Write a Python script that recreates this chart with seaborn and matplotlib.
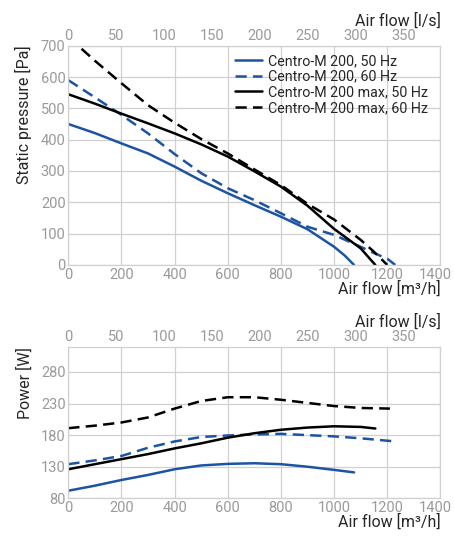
import numpy as np
import pandas as pd
import matplotlib
matplotlib.use("Agg")
import matplotlib.pyplot as plt
import matplotlib.transforms as mtransforms
import seaborn as sns

sns.set_style("white")
plt.rcParams['font.family'] = ['Roboto', 'DejaVu Sans']

# ---- data (air flow m3/h) ----
series_names = ["Centro-M 200, 50 Hz", "Centro-M 200, 60 Hz",
                "Centro-M 200 max, 50 Hz", "Centro-M 200 max, 60 Hz"]

p50_x = [0, 100, 200, 300, 400, 500, 600, 700, 800, 900, 1000, 1040, 1075]
p50_y = [450, 421, 388, 356, 314, 269, 229, 191, 154, 114, 58, 30, 0]

p60_x = [0, 100, 200, 300, 400, 500, 600, 700, 800, 900, 1000, 1100, 1150, 1200, 1230]
p60_y = [590, 535, 479, 420, 354, 293, 245, 207, 165, 122, 96, 58, 38, 20, 0]

pm50_x = [0, 100, 200, 300, 400, 500, 600, 700, 800, 900, 1000, 1100, 1155]
pm50_y = [545, 515, 483, 452, 420, 385, 346, 299, 250, 189, 115, 53, 0]

pm60_x = [50, 100, 200, 300, 400, 500, 600, 700, 800, 900, 1000, 1100, 1150, 1200]
pm60_y = [690, 652, 580, 510, 454, 402, 356, 305, 255, 195, 145, 80, 42, 0]

w50_x = [0, 100, 200, 300, 400, 500, 600, 700, 800, 900, 1000, 1075]
w50_y = [92, 100, 109, 117, 126, 132, 134.5, 135.5, 134, 130, 125, 121]

w60_x = [0, 100, 200, 300, 400, 500, 600, 700, 800, 900, 1000, 1100, 1230]
w60_y = [134, 140, 147, 160, 170, 177, 179.5, 181, 182, 180, 178, 175, 170]

wm50_x = [0, 100, 200, 300, 400, 500, 600, 700, 800, 900, 1000, 1100, 1155]
wm50_y = [126, 134, 142, 150, 159, 167, 176, 183, 188.5, 192, 194, 193, 190.5]

wm60_x = [0, 100, 200, 300, 400, 500, 600, 700, 800, 900, 1000, 1100, 1210]
wm60_y = [191, 195, 200, 208, 222, 234, 240, 240, 236, 231, 226, 223, 222]

x_ticks = [0, 200, 400, 600, 800, 1000, 1200, 1400]
ls_ticks = [0, 50, 100, 150, 200, 250, 300, 350]
p_ticks = [0, 100, 200, 300, 400, 500, 600, 700]
w_ticks = [80, 130, 180, 230, 280]

BLUE = "#1c54a3"
colors = {series_names[0]: BLUE, series_names[1]: BLUE,
          series_names[2]: "black", series_names[3]: "black"}
dashes = {series_names[0]: "", series_names[1]: (4.5, 2.5),
          series_names[2]: "", series_names[3]: (4.5, 2.5)}

def frame(xs, ys):
    parts = []
    for name, x, y in zip(series_names, xs, ys):
        parts.append(pd.DataFrame({"flow": x, "val": y, "series": name}))
    return pd.concat(parts, ignore_index=True)

df_p = frame([p50_x, p60_x, pm50_x, pm60_x], [p50_y, p60_y, pm50_y, pm60_y])
df_w = frame([w50_x, w60_x, wm50_x, wm60_x], [w50_y, w60_y, wm50_y, wm60_y])

fig = plt.figure(figsize=(4.54, 5.40), dpi=100)
ax1 = fig.add_axes([0.1504, 0.5093, 0.8198, 0.4061])
ax2 = fig.add_axes([0.1504, 0.0772, 0.8198, 0.2808])

GRID = "#d0d0d0"
TICK = "#9a9a9a"
FS_T = 10.5
FS_L = 11.5

for ax, df, yl, yt, ylab in [(ax1, df_p, (0, 700), p_ticks, "Static pressure [Pa]"),
                             (ax2, df_w, (80, 320), w_ticks, "Power [W]")]:
    sns.lineplot(data=df, x="flow", y="val", hue="series", style="series",
                 palette=colors, dashes=dashes, sort=False, estimator=None,
                 linewidth=1.8, ax=ax, legend=(ax is ax1))
    ax.set_xlim(0, 1400)
    ax.set_ylim(*yl)
    ax.set_xticks(x_ticks)
    ax.set_yticks(yt)
    ax.grid(True, color=GRID, linewidth=0.9)
    ax.set_axisbelow(True)
    for s in ax.spines.values():
        s.set_color(GRID)
        s.set_linewidth(0.9)
    ax.tick_params(axis="both", colors=TICK, labelsize=FS_T, length=0, pad=2)
    ax.set_xlabel("Air flow [m³/h]", loc="right", fontsize=FS_L, labelpad=-1)
    ax.set_ylabel(ylab, fontsize=FS_L, labelpad=6, loc="top")
    # keep the last tick label inside the picture
    lbls = ax.get_xticklabels()
    off = mtransforms.ScaledTranslation(-4 / 72, 0, fig.dpi_scale_trans)
    lbls[-1].set_transform(lbls[-1].get_transform() + off)
    sec = ax.secondary_xaxis("top", functions=(lambda v: v / 3.6, lambda v: v * 3.6))
    sec.set_xticks(ls_ticks)
    sec.tick_params(axis="x", colors=TICK, labelsize=FS_T, length=0, pad=2)
    sec.spines["top"].set_visible(False)
    sec.set_xlabel("Air flow [l/s]", loc="right", fontsize=FS_L, labelpad=2)

leg = ax1.legend(loc="upper left", bbox_to_anchor=(0.447, 0.962), frameon=False,
                 fontsize=10.3, handlelength=1.9, handletextpad=0.45,
                 labelspacing=0.12, borderaxespad=0, borderpad=0)
leg.set_title(None)

fig.savefig("out.png", dpi=100)
